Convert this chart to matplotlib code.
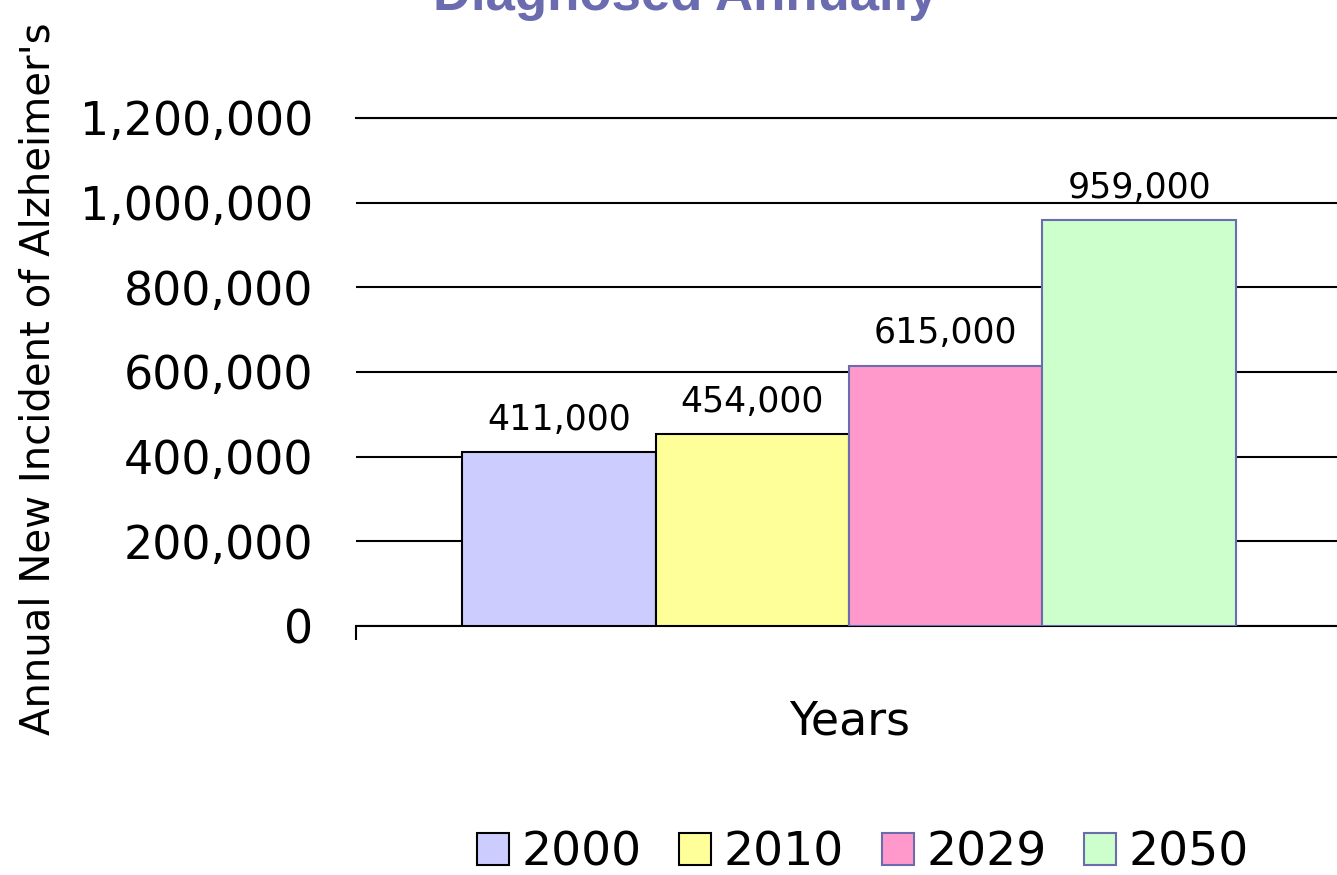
import numpy as np
import matplotlib.pyplot as plt

# data
years = ['2000', '2010', '2029', '2050']
cases = [411000, 454000, 615000, 959000]
colors = ['#ccccff', '#ffff99', '#ff99cc', '#ccffcc']
edges = ['#000000', '#000000', '#6b6bb0', '#6b6bb0']
yticks = [0, 200000, 400000, 600000, 800000, 1000000, 1200000]

fig = plt.figure(figsize=(13.37, 8.75), dpi=100)
ax = fig.add_axes([356/1337, 1-626/875, (1342-356)/1337, (626-118)/875])

offsets = np.arange(len(years)) - 1.5
bars = ax.bar(offsets, cases, width=1.0, color=colors, edgecolor=edges,
              linewidth=1.5, zorder=3, label=years)

for x, v in zip(offsets, cases):
    ax.annotate(f'{v:,}', (x, v), xytext=(0, 16), textcoords='offset points',
                ha='center', va='baseline', fontsize=25)

ax.set_xlim(-2.548, 2.548)
ax.set_ylim(0, 1200000)
ax.set_yticks(yticks)
ax.set_yticklabels([f'{t:,}' for t in yticks], fontsize=33)
ax.tick_params(axis='y', length=0, pad=31)
ax.set_xticks([-2.548, 2.548])
ax.set_xticklabels(['', ''])
ax.tick_params(axis='x', length=10, width=1.5, direction='out')
ax.grid(axis='y', color='black', linewidth=1.5, zorder=0)
ax.spines['left'].set_visible(False)
ax.spines['right'].set_visible(False)
ax.spines['top'].set_linewidth(1.5)
ax.spines['bottom'].set_linewidth(1.5)

fig.text(850/1337, 1-722/875, 'Years', ha='center', va='center', fontsize=33)
fig.text(38/1337, 1-735/875, "Annual New Incident of Alzheimer's", rotation=90,
         ha='left', va='center', rotation_mode='anchor', fontsize=29)
fig.text(685/1337, 1-10/875, 'Diagnosed Annually', ha='center', va='baseline',
         fontsize=38, weight='bold', color='#6b6bb0', family='Liberation Sans')

fig.legend(bars, years, loc='center', bbox_to_anchor=(863/1337, 1-853/875),
           ncol=4, frameon=False, fontsize=34, handlelength=0.68, handleheight=0.68,
           handletextpad=0.26, columnspacing=0.8)

fig.savefig('out.png', dpi=100)
